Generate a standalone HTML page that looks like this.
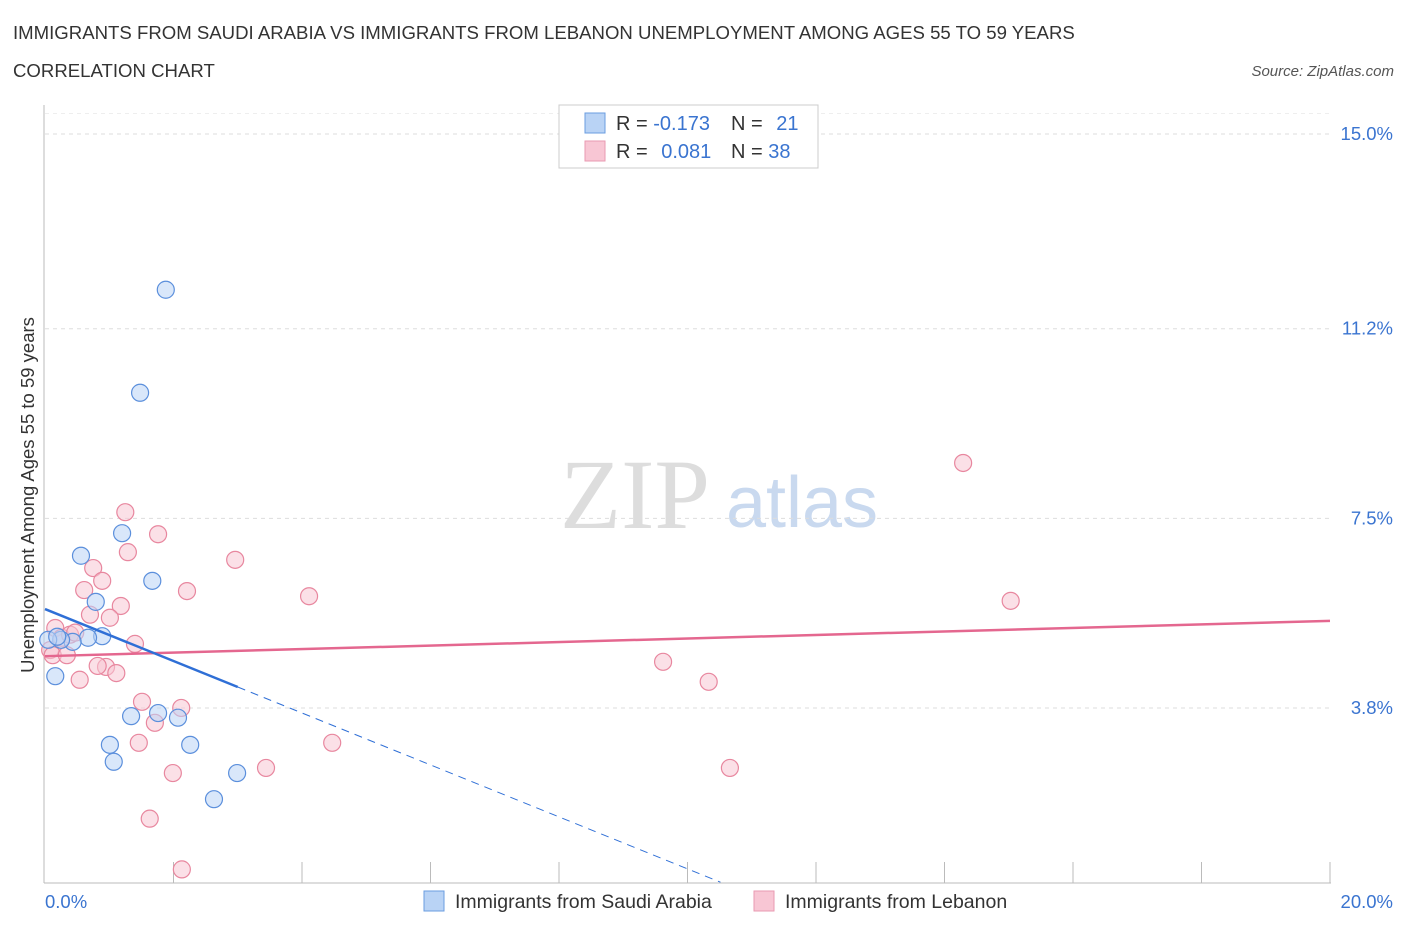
<!DOCTYPE html>
<html><head><meta charset="utf-8"><style>
body{margin:0;background:#fff;font-family:"Liberation Sans",sans-serif}
</style></head><body>
<svg id="c" width="1406" height="930" font-family="Liberation Sans, sans-serif">
<text x="13" y="39" font-size="18.6" fill="#333">IMMIGRANTS FROM SAUDI ARABIA VS IMMIGRANTS FROM LEBANON UNEMPLOYMENT AMONG AGES 55 TO 59 YEARS</text>
<text x="13" y="77" font-size="18.6" fill="#333">CORRELATION CHART</text>
<text x="1394" y="76" font-size="15" fill="#555" font-style="italic" text-anchor="end">Source: ZipAtlas.com</text>
<text x="635" y="528" font-size="100" fill="#ddd" style="font-family:'Liberation Serif',serif" text-anchor="middle">ZIP</text>
<text x="802" y="527" font-size="72" fill="#c9d9ef" text-anchor="middle">atlas</text>
<text transform="translate(34,495) rotate(-90)" font-size="18.5" fill="#333" text-anchor="middle">Unemployment Among Ages 55 to 59 years</text>
<g id="grid"></g><g id="marks"></g>
<g>
<rect x="559" y="105" width="259" height="63" fill="#fff" stroke="#ccc"/>
<rect x="585" y="113" width="20" height="20" fill="#b9d3f5" stroke="#6a9de0"/>
<rect x="585" y="141" width="20" height="20" fill="#f8c6d4" stroke="#e99ab2"/>
<text x="616" y="130" font-size="20" fill="#333">R = <tspan fill="#3a74d0">-0.173</tspan></text>
<text x="731" y="130" font-size="20" fill="#333">N = <tspan fill="#3a74d0" dx="8">21</tspan></text>
<text x="616" y="158" font-size="20" fill="#333">R = <tspan fill="#3a74d0" dx="8">0.081</tspan></text>
<text x="731" y="158" font-size="20" fill="#333">N = <tspan fill="#3a74d0">38</tspan></text>
</g>
<g>
<rect x="424" y="891" width="20" height="20" fill="#b9d3f5" stroke="#6a9de0"/>
<text x="455" y="908" font-size="19.5" fill="#333">Immigrants from Saudi Arabia</text>
<rect x="754" y="891" width="20" height="20" fill="#f8c6d4" stroke="#e99ab2"/>
<text x="785" y="908" font-size="19.5" fill="#333">Immigrants from Lebanon</text>
</g>
</svg>
<script>
const yTicks=[15.0,11.2,7.5,3.8];
const yTickLabels=["15.0%","11.2%","7.5%","3.8%"];
const xTickLabels=["0.0%","20.0%"];
const saudiX=[1.88,1.48,1.20,0.56,1.67,0.79,0.89,0.67,0.43,0.25,0.16,1.34,1.76,2.07,1.01,2.26,1.07,2.99,2.63,0.05,0.19];
const saudiY=[11.96,9.95,7.21,6.77,6.28,5.87,5.20,5.17,5.09,5.13,4.42,3.64,3.70,3.61,3.08,3.08,2.75,2.53,2.02,5.13,5.19];
const lebX=[1.25,1.76,1.29,2.96,0.75,0.89,0.61,2.21,1.18,0.70,1.01,4.11,15.03,14.29,1.40,0.95,0.82,1.11,0.54,9.62,10.33,1.51,2.12,1.71,1.46,4.47,3.44,10.66,1.99,1.63,2.13,0.16,0.26,0.39,0.08,0.12,0.34,0.47];
const lebY=[7.62,7.19,6.84,6.69,6.53,6.28,6.10,6.08,5.79,5.62,5.56,5.98,5.89,8.58,5.05,4.60,4.62,4.48,4.35,4.70,4.31,3.92,3.80,3.51,3.12,3.12,2.63,2.63,2.53,1.64,0.65,5.36,5.17,5.23,4.93,4.83,4.83,5.27];
const saudiTrend=[5.73,-0.507];
const lebTrend=[4.81,0.0345];
const X=v=>45+v*1285/20, Y=v=>902.7-v*51.25;
const NS="http://www.w3.org/2000/svg";
function mk(t,a,p){const e=document.createElementNS(NS,t);for(const k in a)e.setAttribute(k,a[k]);p.appendChild(e);return e;}
const g=document.getElementById('grid'),m=document.getElementById('marks');
yTicks.forEach((t,i)=>{
 const l=mk('line',{x1:45,x2:1330,y1:Y(t),y2:Y(t),stroke:'#ddd','stroke-dasharray':'4,4'},g);
 
 
 const tx=mk('text',{x:1393,y:Y(t)+6,'font-size':18.5,fill:'#3a74d0','text-anchor':'end'},g);
 tx.textContent=yTickLabels[i];
 
 
});
mk('line',{x1:45,x2:1330,y1:Y(15.4),y2:Y(15.4),stroke:'#eee','stroke-dasharray':'4,4'},g);
const ax=mk('line',{x1:44,x2:44,y1:105,y2:883,stroke:'#bbb'},g);


const bx=mk('line',{x1:44,x2:1331,y1:883,y2:883,stroke:'#bbb'},g);


for(let i=1;i<=10;i++){const t=mk('line',{x1:45+i*128.5,x2:45+i*128.5,y1:862,y2:883,stroke:'#bbb'},g);
 
 }
[[xTickLabels[0],45,'start'],[xTickLabels[1],1393,'end']].forEach(([s,x,a])=>{
 const t=mk('text',{x:x,y:908,'font-size':18.5,fill:'#3a74d0','text-anchor':a},g);t.textContent=s;
 
 });
function dots(xs,ys,f,s,name){xs.forEach((x,i)=>{
 const c=mk('circle',{cx:X(x),cy:Y(ys[i]),r:8.5,fill:f,'fill-opacity':0.55,stroke:s,'stroke-width':1.2},m);
 
 });}
dots(lebX,lebY,'#f8c6d4','#e8879f','lebanon-point');
dots(saudiX,saudiY,'#b9d3f5','#5b8fdc','saudi-arabia-point');
const pl=mk('line',{x1:X(0),y1:Y(lebTrend[0]),x2:X(20),y2:Y(lebTrend[0]+lebTrend[1]*20),stroke:'#e4678f','stroke-width':2.5},m);


const bl=mk('line',{x1:X(0),y1:Y(saudiTrend[0]),x2:X(3),y2:Y(saudiTrend[0]+saudiTrend[1]*3),stroke:'#2f6fd6','stroke-width':2.5},m);


const xe=(saudiTrend[0]-0.4)/-saudiTrend[1];
const bd=mk('line',{x1:X(3),y1:Y(saudiTrend[0]+saudiTrend[1]*3),x2:X(xe),y2:Y(0.4),stroke:'#2f6fd6','stroke-width':1,'stroke-dasharray':'8,6'},m);


</script>
</body></html>
